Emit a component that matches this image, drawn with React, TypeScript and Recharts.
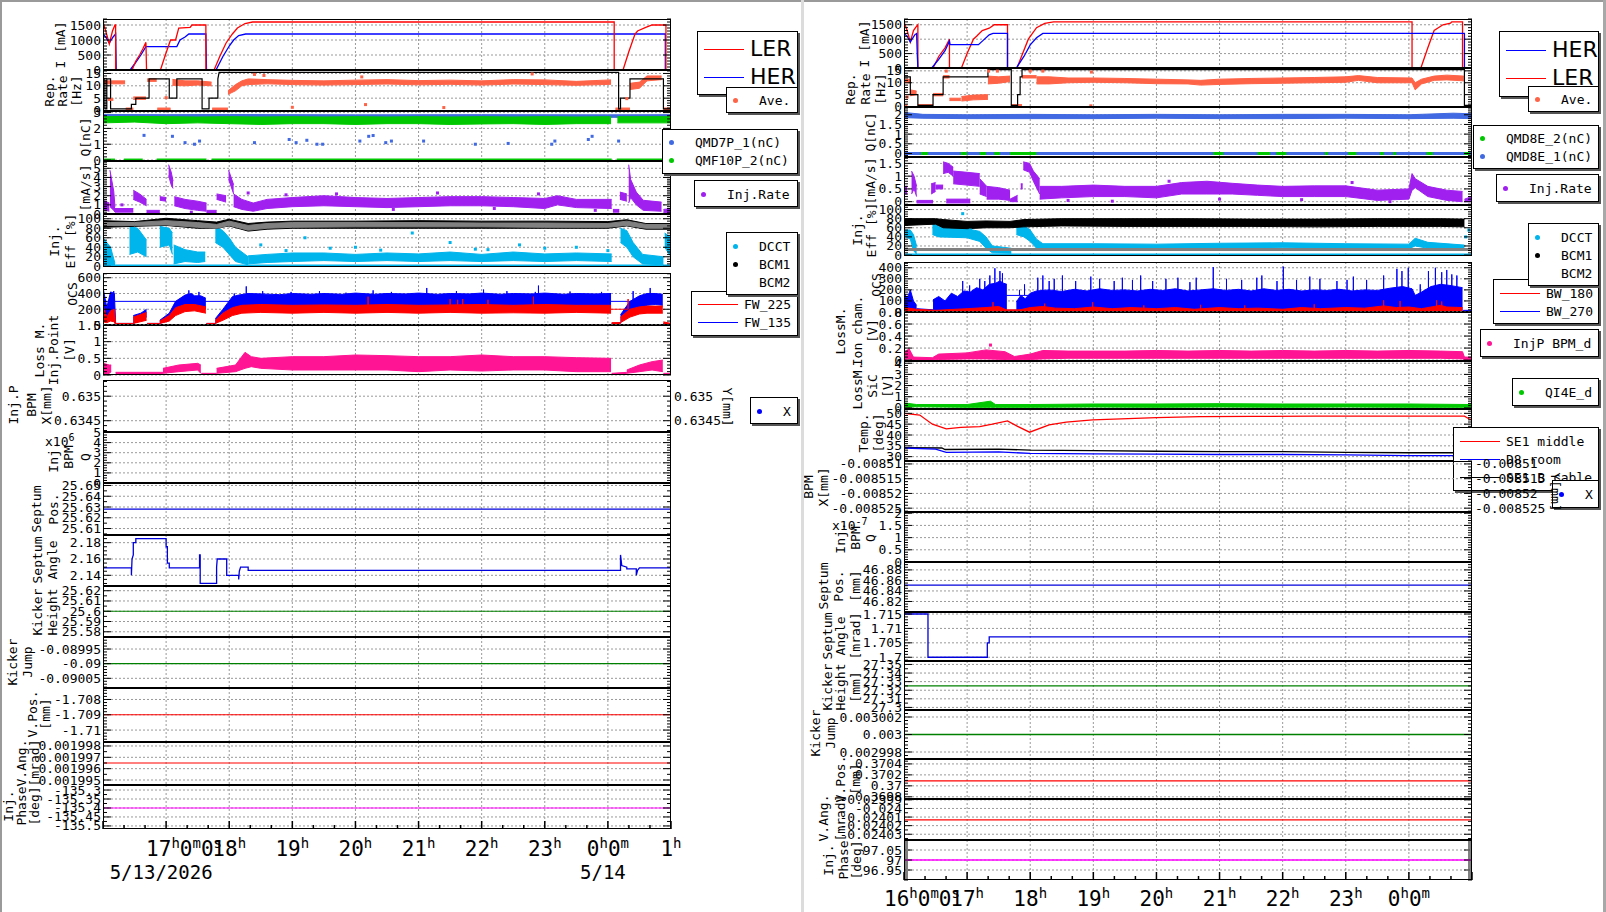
import React from 'react';
import { ComposedChart, Line, Area, Scatter, XAxis, YAxis, CartesianGrid } from 'recharts';

type P = [number, number];
type B = [number, number, number];

const RED = '#ff0000';
const BLUE = '#0000ff';
const ORANGE = '#ff6347';
const GREEN = '#00c800';
const ROYAL = '#4169e1';
const PURPLE = '#a020f0';
const CYAN = '#00b4ec';
const GRAY = '#808080';
const PINK = '#ff1493';
const DKGREEN = '#008000';
const MAGENTA = '#ff00ff';
const SEPT = '#0000dd';
const MONO = '"DejaVu Sans Mono", monospace';

const PLOT_W = 568;
const AXIS_W = 103;

// time axis (hours, 24 = 0h next day)
const HOUR_TICKS: number[] = Array.from({ length: 28 }, (_, i) => 16 + i / 3);
const HOUR_GRID = [17, 18, 19, 20, 21, 22, 23, 24];
const lerHourTicks = [17, 18, 19, 20, 21, 22, 23, 24, 25];
const lerHourLabels = ['17h0m0s', '18h', '19h', '20h', '21h', '22h', '23h', '0h0m', '1h'];
const lerDateTicks = [17, 24];
const lerDateLabels = ['5/13/2026', '5/14'];
const herHourTicks = [16, 17, 18, 19, 20, 21, 22, 23, 24];
const herHourLabels = ['16h0m0s', '17h', '18h', '19h', '20h', '21h', '22h', '23h', '0h0m'];

// ---------------- LER panel ----------------
const lerCurLER: P[] = [[16.0,1600],[16.05,1250],[16.1,870],[16.15,1300],[16.19,1500],[16.2,1500],[16.2,0],[16.46,0],[16.52,300],[16.58,500],[16.63,700],[16.68,920],[16.69,0],[16.91,0],[16.98,450],[17.07,1000],[17.15,1000],[17.2,1400],[17.38,1420],[17.41,1500],[17.63,1500],[17.63,0],[17.76,0],[17.85,450],[17.95,900],[18.05,1200],[18.13,1400],[18.25,1550],[18.37,1600],[24.1,1600],[24.1,0],[24.24,0],[24.33,600],[24.43,1200],[24.47,1300],[24.6,1420],[24.7,1500],[24.92,1500],[24.92,0],[25,0]];
const lerCurHER: P[] = [[16.0,1200],[16.05,1080],[16.1,900],[16.16,1100],[16.2,1200],[16.21,0],[16.43,0],[16.5,200],[16.6,500],[16.68,780],[17.17,780],[17.22,1000],[17.3,1100],[17.36,1200],[17.63,1200],[17.64,0],[17.79,0],[17.9,450],[18.0,800],[18.07,1000],[18.15,1150],[18.26,1200],[24.91,1200],[24.91,0],[25,0]];

const lerRepSet: P[] = [[16.0,12.8],[16.03,12.8],[16.03,0.7],[16.06,0.7],[16.06,12.8],[16.12,12.8],[16.12,0.7],[16.45,0.7],[16.45,2.5],[16.52,2.5],[16.52,5],[16.73,5],[16.73,12.8],[17.05,12.8],[17.05,5],[17.17,5],[17.17,12.8],[17.57,12.8],[17.57,0.7],[17.68,0.7],[17.68,5],[17.82,5],[17.82,12.8],[17.84,15.4],[24.17,15.4],[24.17,0.7],[24.2,0.7],[24.2,5],[24.35,5],[24.35,12.8],[24.88,12.8],[24.88,0.7],[25,0.7]];
const lerRepAve: B[][] = [
  [[16.0,10.8,12.0],[16.35,10.8,12.0]],
  [[16.36,0.2,1.0],[16.48,0.2,1.0]],
  [[16.48,4.5,5.5],[16.68,4.5,5.5]],
  [[16.7,11.8,12.8],[16.85,11.8,12.8]],
  [[16.86,0.2,1.0],[17.07,0.2,1.0]],
  [[17.1,10.2,12.6],[17.3,10.0,12.0],[17.5,10.3,12.0],[17.72,10.0,11.5]],
  [[17.73,0.2,1.0],[17.98,0.2,1.0]],
  [[17.98,6.5,8.0],[18.1,8.0,10.5],[18.2,10.0,12.0],[18.3,10.5,12.8],[18.6,10.8,12.5],[19.0,10.5,12.2],[19.5,10.3,12.0],[20.0,10.5,12.3],[20.5,10.7,12.5],[21.0,10.4,12.1],[21.5,10.6,12.3],[22.0,10.3,12.0],[22.5,10.7,12.5],[23.0,10.5,12.4],[23.5,10.2,11.8],[24.05,10.6,12.4]],
  [[24.12,0.2,1.0],[24.35,0.2,1.0]],
  [[24.35,8.5,11.0],[24.5,9.0,11.5],[24.62,12.0,14.0],[24.85,12.5,14.0]],
  [[24.88,0.2,1.0],[25.0,0.2,1.0]],
];
const lerRepAveOut: P[] = [[16.1,4.5],[16.14,4.5],[17.0,5.2],[18.4,14.6],[18.55,14.2],[19.0,1.3],[20.1,13.6],[20.16,2.4],[21.4,1.2],[22.8,14.8],[24.3,4.8]];

const lerQ7Band: B[][] = [[[16.0,2.7,2.88],[17.0,2.7,2.87],[18.0,2.72,2.88],[20.0,2.7,2.86],[22.0,2.7,2.87],[24.0,2.7,2.86],[25.0,2.7,2.87]]];
const lerQ10Band: B[][] = [
  [[16.0,2.35,2.74],[16.5,2.4,2.76],[17.0,2.3,2.74],[17.5,2.35,2.72],[18.0,2.3,2.74],[18.5,2.25,2.72],[19.0,2.3,2.74],[19.5,2.3,2.72],[20.0,2.25,2.74],[20.5,2.3,2.72],[21.0,2.3,2.74],[21.5,2.25,2.72],[22.0,2.28,2.74],[22.5,2.3,2.72],[23.0,2.25,2.74],[23.5,2.3,2.72],[24.05,2.3,2.74]],
  [[24.15,2.35,2.74],[25.0,2.35,2.74]],
];
const lerQ10Zero: P[][] = [[[16.0,0],[16.19,0]],[[16.33,0],[16.63,0]],[[16.85,0],[17.64,0]],[[17.72,0],[24.06,0]],[[24.14,0],[25,0]]];
const lerQ7Dots: P[] = [[16.65,1.56],[17.1,1.5],[17.3,1.1],[17.45,1.0],[17.53,1.2],[18.4,1.1],[18.95,1.3],[19.06,1.1],[19.23,1.25],[19.39,1.0],[19.48,1.0],[20.07,1.2],[20.21,1.5],[20.28,1.55],[20.48,1.1],[20.57,1.2],[21.08,1.2],[21.9,1.0],[22.42,1.05],[23.11,1.0],[23.16,1.2],[23.69,1.3],[23.75,1.5],[24.17,1.2]];

const lerRate: B[][] = [
  [[16.0,0.5,1.5],[16.1,0.3,1.2]],
  [[16.11,0.8,4.8],[16.17,0.4,2.5],[16.19,0.2,0.8]],
  [[16.19,0.2,0.6],[16.48,0.2,0.6]],
  [[16.48,1.6,2.6],[16.58,1.3,2.2],[16.69,0.9,1.6]],
  [[16.69,0.1,0.4],[16.9,0.1,0.4]],
  [[16.9,1.5,1.9],[17.0,1.4,1.8]],
  [[17.04,4.2,5.4],[17.08,3.2,4.6],[17.11,2.8,3.6]],
  [[17.13,0.9,1.9],[17.3,0.6,1.6],[17.5,0.4,1.4],[17.64,0.3,1.2]],
  [[17.64,0.1,0.4],[17.8,0.1,0.4]],
  [[17.8,1.6,2.2],[17.95,1.3,2.0]],
  [[17.99,3.8,4.8],[18.03,3.0,4.0],[18.07,2.2,3.2]],
  [[18.07,0.8,2.2],[18.2,0.5,1.6],[18.38,0.3,1.2],[18.6,0.6,1.6],[19.0,0.8,1.8],[19.5,0.9,2.0],[20.0,0.8,1.8],[20.5,0.7,1.7],[21.0,0.8,1.8],[21.5,0.9,1.9],[22.0,0.9,1.9],[22.5,0.8,1.8],[23.0,0.6,1.7],[23.2,1.0,2.0],[23.5,0.7,1.6],[24.06,0.6,1.6]],
  [[24.08,0.2,0.5],[24.18,0.2,0.5]],
  [[24.19,1.6,2.4],[24.3,1.4,2.2]],
  [[24.33,1.2,5.4],[24.36,1.8,3.8],[24.45,1.0,2.4],[24.56,0.4,1.5],[24.85,0.3,1.3]],
  [[24.88,0.1,0.5],[25.0,0.2,0.6]],
];
const lerRateDots: P[] = [[18.3,2.3],[18.9,2.1],[19.7,2.2],[20.6,0.5],[21.3,2.3],[22.2,0.6],[22.9,2.2],[23.8,0.4],[17.4,0.2],[16.3,1.0]];

const lerEffBcm1: B[][] = [[[16.0,82,96],[16.5,84,94],[17.0,86,101],[17.5,80,96],[17.8,80,93],[18.0,85,99],[18.3,74,90],[18.6,78,93],[19.0,80,95],[20.0,80,95],[21.0,80,96],[22.0,80,95],[23.0,80,95],[24.0,80,94],[24.3,85,98],[24.6,78,90],[25.0,78,90]]];
const lerEffBcm2: B[][] = [[[16.0,86,92],[16.5,86,92],[17.0,87,96],[17.5,82,92],[17.8,80,88],[18.0,86,95],[18.3,76,86],[18.6,80,90],[19.0,82,92],[20.0,83,92],[21.0,83,92],[22.0,83,91],[23.0,82,91],[24.0,82,90],[24.3,86,95],[24.6,80,88],[25.0,80,88]]];
const lerEffDcct: B[][] = [
  [[16.0,5,60],[16.12,2,40],[16.19,1,6]],
  [[16.42,25,84],[16.55,30,80],[16.69,20,55]],
  [[16.9,40,84],[17.05,45,80],[17.1,25,70]],
  [[17.12,5,45],[17.3,10,35],[17.5,8,30],[17.62,10,30]],
  [[17.78,50,84],[17.9,40,75],[18.0,25,60],[18.1,10,40],[18.3,3,20]],
  [[18.3,5,22],[18.6,8,25],[19.0,10,28],[19.5,12,28],[20.0,10,25],[20.5,12,28],[21.0,10,26],[21.5,12,30],[22.0,10,25],[22.5,12,30],[23.0,10,26],[23.5,12,28],[24.06,10,26]],
  [[24.2,50,80],[24.3,40,75],[24.4,20,50],[24.55,5,25],[24.88,3,20]],
  [[24.9,40,70],[25.0,20,60]],
];
const lerEffDcctBase: P[] = [[16, 0.8], [25, 0.8]];
const lerEffDcctDots: P[] = [[18.5,45],[19.2,60],[19.6,38],[20.0,40],[20.9,70],[21.5,50],[22.1,35],[22.6,45],[23.5,40],[18.9,33],[20.4,34],[21.9,36],[23.0,38],[24.0,33]];

const lerOcs135: B[][] = [
  [[16.0,80,480],[16.06,60,220],[16.12,120,420],[16.18,60,400],[16.2,0,30]],
  [[16.2,0,20],[16.48,0,20]],
  [[16.48,20,120],[16.6,60,150],[16.69,100,200]],
  [[16.7,0,20],[16.9,0,20]],
  [[16.9,20,60],[17.05,60,150],[17.15,150,300],[17.3,230,380],[17.4,250,400],[17.45,260,370],[17.55,230,370],[17.63,200,340]],
  [[17.64,0,20],[17.78,0,20]],
  [[17.78,20,80],[17.9,80,200],[18.05,150,360],[18.15,220,380],[18.3,240,400],[18.5,250,395],[18.8,240,385],[19.0,250,400],[19.3,240,390],[19.5,250,400],[19.8,240,390],[20.0,250,405],[20.3,240,390],[20.5,250,400],[20.8,240,395],[21.0,250,405],[21.3,240,390],[21.5,250,400],[21.8,240,395],[22.0,250,405],[22.3,240,390],[22.5,250,400],[22.8,240,395],[23.0,250,405],[23.3,240,390],[23.5,250,400],[23.8,240,395],[24.05,250,400]],
  [[24.06,0,20],[24.2,0,30]],
  [[24.2,30,130],[24.35,150,300],[24.5,200,370],[24.62,250,400],[24.75,260,400],[24.87,250,390]],
  [[24.88,0,20],[25.0,0,20]],
];
const lerOcs135Spikes: P[] = [[16.0,490],[16.17,430],[17.36,440],[17.52,420],[18.08,400],[18.27,490],[18.53,430],[18.98,420],[19.43,430],[19.85,410],[20.28,440],[20.57,420],[21.13,470],[21.6,430],[22.03,450],[22.4,430],[22.85,420],[22.9,500],[23.4,425],[23.9,420],[24.4,430],[24.67,470]];
const lerOcs225: B[][] = [
  [[16.0,40,250],[16.06,30,100],[16.12,50,180],[16.18,40,200],[16.2,0,20]],
  [[16.2,0,20],[16.48,0,20]],
  [[16.48,20,100],[16.69,60,160]],
  [[16.7,0,20],[16.9,0,20]],
  [[16.9,20,50],[17.05,50,120],[17.15,120,220],[17.3,170,260],[17.45,180,260],[17.63,150,230]],
  [[17.64,0,20],[17.78,0,20]],
  [[17.78,20,60],[17.9,60,150],[18.05,120,220],[18.2,150,250],[18.5,160,260],[19.0,150,250],[19.5,160,255],[20.0,150,250],[20.5,160,260],[21.0,150,250],[21.5,160,255],[22.0,150,260],[22.5,155,250],[23.0,150,260],[23.5,160,250],[24.05,150,250]],
  [[24.06,0,30],[24.2,0,30]],
  [[24.2,30,100],[24.35,100,200],[24.5,140,230],[24.62,150,240],[24.87,150,240]],
  [[24.88,0,40],[25.0,0,20]],
];
const lerOcs225Spikes: P[] = [[20.2,360],[21.5,330],[21.62,320],[21.7,330],[22.1,320],[22.82,360],[24.32,330]];

const lerLoss: B[][] = [
  [[16.0,0,0.35],[16.1,0.05,0.3],[16.13,0.1,0.3]],
  [[16.2,0,0.08],[16.95,0,0.08]],
  [[16.95,0.05,0.2],[17.2,0.1,0.3],[17.5,0.15,0.35],[17.55,0.05,0.3]],
  [[17.56,0,0.05],[17.8,0,0.05]],
  [[17.8,0.05,0.2],[18.1,0.1,0.3],[18.25,0.2,0.68],[18.35,0.25,0.55],[18.5,0.2,0.5],[19.0,0.15,0.55],[19.5,0.15,0.55],[20.0,0.15,0.6],[20.5,0.15,0.58],[21.0,0.1,0.55],[21.5,0.15,0.55],[22.0,0.12,0.6],[22.5,0.15,0.55],[23.0,0.15,0.55],[23.5,0.1,0.52],[24.05,0.1,0.5]],
  [[24.06,0,0.05],[24.3,0,0.08]],
  [[24.3,0.05,0.15],[24.5,0.1,0.3],[24.7,0.15,0.4],[24.87,0.1,0.45]],
  [[24.88,0,0.05],[25.0,0,0.05]],
];

const lerSeptPos: P[] = [[16, 25.628], [25, 25.628]];
const lerSeptAng: P[] = [[16.0,2.149],[16.45,2.149],[16.45,2.14],[16.46,2.16],[16.48,2.165],[16.48,2.18],[16.52,2.18],[16.52,2.185],[17.0,2.185],[17.0,2.175],[17.02,2.175],[17.02,2.155],[17.05,2.155],[17.05,2.149],[17.53,2.149],[17.53,2.165],[17.54,2.165],[17.54,2.13],[17.8,2.13],[17.8,2.15],[17.81,2.16],[17.96,2.16],[17.96,2.14],[18.15,2.14],[18.15,2.135],[18.16,2.145],[18.18,2.15],[18.3,2.15],[18.3,2.146],[24.2,2.146],[24.2,2.165],[24.22,2.152],[24.3,2.15],[24.3,2.148],[24.45,2.148],[24.45,2.14],[24.47,2.146],[24.5,2.149],[25,2.149]];
const lerKickH: P[] = [[16, 25.6], [25, 25.6]];
const lerKickJ: P[] = [[16, -0.09], [25, -0.09]];
const lerVPos: P[] = [[16, -1.709], [25, -1.709]];
const lerVAng: P[] = [[16, 0.0019965], [25, 0.0019965]];
const lerPhase: P[] = [[16, -135.4], [25, -135.4]];

// ---------------- HER panel ----------------
const herCurHER: P[] = [[16.0,1200],[16.05,1100],[16.1,900],[16.17,1150],[16.2,1200],[16.21,500],[16.22,0],[16.44,0],[16.55,300],[16.65,600],[16.72,930],[16.73,810],[17.18,810],[17.25,950],[17.35,1150],[17.41,1200],[17.64,1200],[17.64,0],[17.78,0],[17.9,400],[18.0,800],[18.1,1050],[18.2,1200],[24.88,1200],[24.88,0],[25,0]];
const herCurLER: P[] = [[16.0,1600],[16.05,1300],[16.1,900],[16.15,1300],[16.2,1450],[16.22,1500],[16.22,0],[16.46,0],[16.55,400],[16.65,700],[16.72,1000],[16.72,0],[16.91,0],[17.0,500],[17.1,1000],[17.15,1100],[17.24,1300],[17.35,1380],[17.43,1500],[17.64,1500],[17.64,0],[17.79,0],[17.88,500],[17.97,1000],[18.1,1400],[18.23,1550],[18.37,1600],[24.05,1600],[24.05,0],[24.19,0],[24.3,700],[24.4,1300],[24.54,1500],[24.66,1560],[24.68,1600],[24.85,1600],[24.85,0],[25,0]];

const herRepSet: P[] = [[16.0,12.5],[16.1,12.5],[16.1,5],[16.22,5],[16.22,0.5],[16.46,0.5],[16.46,5],[16.62,5],[16.62,12.5],[17.33,12.5],[17.33,15.5],[17.7,15.5],[17.7,0.5],[17.8,0.5],[17.8,5],[17.84,5],[17.84,12.5],[17.87,12.5],[17.87,15.5],[24.88,15.5],[24.88,0.5],[25,0.5]];
const herRepAve: B[][] = [
  [[16.0,10.0,11.5],[16.1,10.0,11.5]],
  [[16.1,4.5,7.0],[16.2,5.0,6.5]],
  [[16.22,0,0.8],[16.46,0,0.8]],
  [[16.46,4.5,5.5],[16.62,4.5,5.5]],
  [[16.62,12.0,13.0],[16.72,12.0,13.0]],
  [[16.72,2.5,3.5],[16.9,2.5,3.5]],
  [[16.91,2.3,4.2],[17.1,2.8,4.8],[17.33,3.0,5.0]],
  [[17.33,9.5,12.8],[17.5,9.8,12.5],[17.68,10.5,12.8]],
  [[17.7,0,0.8],[17.87,0,0.8]],
  [[17.87,12.0,13.0],[18.1,12.0,13.0]],
  [[18.1,9.5,12.5],[18.3,9.5,12.5],[18.6,10.0,12.0],[19.0,10.2,12.0],[19.5,10.0,11.8],[20.0,9.6,11.5],[20.5,9.5,11.2],[20.7,9.0,11.0],[21.0,9.3,11.5],[21.5,9.6,11.8],[22.0,9.8,12.0],[22.5,10.0,12.2],[23.0,10.2,12.5],[23.2,11.0,13.0],[23.5,10.0,12.2],[24.05,10.0,12.0],[24.1,7.0,10.0],[24.2,9.5,11.5],[24.4,11.0,12.8],[24.6,11.2,13.2],[24.87,10.8,12.8]],
];
const herRepOut: P[] = [[16.03,0.3],[16.05,4.0],[16.67,14.9],[17.34,14.9],[17.48,14.9],[18.0,14.9],[18.2,14.9],[18.97,14.5],[18.96,0.3]];

const herQ1Band: B[][] = [[[16.0,1.85,2.12],[16.3,1.82,2.02],[17.0,1.8,2.0],[18.0,1.8,2.02],[19.0,1.8,2.0],[20.0,1.82,2.02],[21.0,1.8,2.0],[22.0,1.8,2.02],[23.0,1.82,2.02],[24.0,1.8,2.0],[24.7,1.82,2.08],[25.0,1.8,2.05]]];
const herQ2Zero: P[] = [[16, 0], [25, 0]];
const herQ1Zero: P[][] = [[[16.0,0],[16.27,0]],[[16.38,0],[16.9,0]],[[17.0,0],[17.2,0]],[[17.3,0],[17.43,0]],[[17.52,0],[17.68,0]],[[18.1,0],[20.9,0]],[[21.06,0],[21.6,0]],[[21.8,0],[21.9,0]],[[22.06,0],[22.67,0]],[[22.72,0],[23.04,0]],[[23.17,0],[23.54,0]],[[23.6,0],[23.75,0]],[[23.8,0],[24.28,0]],[[24.38,0],[24.88,0]],[[24.96,0],[25.0,0]]];

const herRate: B[][] = [
  [[16.0,0.3,0.6],[16.05,0.3,0.6]],
  [[16.12,0.3,1.2],[16.16,0.5,1.0],[16.2,0.2,0.6]],
  [[16.2,-0.05,0.05],[16.46,-0.05,0.05]],
  [[16.43,0.3,0.7],[16.5,0.4,0.75]],
  [[16.5,0.5,0.65],[16.62,0.5,0.65]],
  [[16.62,1.1,1.56],[16.7,1.15,1.5],[16.78,1.0,1.35]],
  [[16.78,0.7,1.2],[17.0,0.65,1.15],[17.2,0.6,1.1]],
  [[17.2,0.3,0.9],[17.31,0.2,0.6]],
  [[17.31,0.1,0.6],[17.5,0.1,0.55],[17.68,0.05,0.45]],
  [[16.67,-0.05,0.1],[17.05,-0.05,0.1]],
  [[17.68,0,0.1],[17.8,0,0.25]],
  [[17.85,0.5,0.7],[17.88,0.5,0.7]],
  [[17.89,1.25,1.56],[17.99,1.15,1.5],[18.05,0.8,1.2],[18.15,0.3,0.9]],
  [[18.15,0.1,0.6],[18.5,0.15,0.6],[19.0,0.2,0.65],[19.5,0.2,0.6],[20.0,0.15,0.6],[20.4,0.3,0.75],[20.8,0.3,0.8],[21.2,0.3,0.72],[21.6,0.25,0.65],[22.0,0.2,0.6],[22.5,0.2,0.62],[23.0,0.2,0.62],[23.5,0.05,0.45],[24.0,0.1,0.5],[24.05,0.45,1.1],[24.1,0.55,0.9],[24.3,0.2,0.6],[24.6,0.05,0.45],[24.85,0,0.4]],
  [[24.88,0,0.1],[25.0,0,0.2]],
];
const herRateDots: P[] = [[18.6,0.05],[19.3,0.02],[20.2,0.8],[21.0,0.1],[22.3,0.08],[23.1,0.75],[23.7,0.0]];

const herEffBcm1: B[][] = [[[16.0,65,80],[16.5,68,80],[16.62,60,78],[17.0,58,74],[17.3,60,75],[17.68,60,74],[17.9,62,78],[18.5,64,80],[19.5,63,80],[20.5,63,80],[21.5,63,79],[22.5,62,79],[23.5,63,80],[24.5,63,80],[24.88,62,79]]];
const herEffDcct: B[][] = [
  [[16.0,42,55],[16.1,35,55],[16.15,10,45],[16.2,2,20]],
  [[16.45,45,77],[16.55,40,62],[17.0,38,58],[17.2,30,52],[17.3,15,40],[17.4,5,20],[17.7,4,15]],
  [[17.78,45,73],[17.9,40,65],[18.0,30,55],[18.1,15,35],[18.2,14,25],[19.0,15,25],[20.0,14,24],[21.0,15,26],[22.0,16,27],[23.0,14,25],[24.0,14,24],[24.1,20,37],[24.3,15,28],[24.88,12,22]],
];
const herEffDcctBase: P[] = [[16, 0], [25, 0]];
const herEffBcm2: P[] = [[16, 12.5], [25, 12.5]];
const herEffDots: P[] = [[16.93,91],[17.05,55],[24.9,40],[24.95,55]];

const herOcs270: B[][] = [
  [[16.0,0,180],[16.05,10,120],[16.1,5,200],[16.15,0,100],[16.2,0,60]],
  [[16.2,0,30],[16.46,0,20]],
  [[16.46,0,110],[16.55,0,140],[16.65,0,100],[16.75,0,170],[16.85,0,140],[16.95,0,190],[17.05,0,180],[17.15,0,220],[17.25,0,200],[17.35,0,250],[17.45,0,260],[17.52,0,280],[17.58,0,260],[17.63,0,250]],
  [[17.64,0,15],[17.78,0,15]],
  [[17.78,0,90],[17.85,0,150],[17.92,0,120],[18.0,0,170],[18.1,0,190],[18.3,0,200],[18.5,0,185],[18.7,0,205],[18.9,0,190],[19.1,0,210],[19.3,0,195],[19.5,0,200],[19.7,0,190],[19.9,0,205],[20.1,0,195],[20.3,0,210],[20.5,0,190],[20.7,0,200],[20.9,0,210],[21.1,0,195],[21.3,0,205],[21.5,0,190],[21.7,0,210],[21.9,0,195],[22.1,0,205],[22.3,0,190],[22.5,0,200],[22.7,0,195],[22.9,0,205],[23.1,0,190],[23.3,0,200],[23.5,0,195],[23.7,0,215],[23.9,0,230],[24.05,0,210],[24.1,0,150],[24.2,0,180],[24.35,0,230],[24.5,0,250],[24.65,0,240],[24.85,0,220]],
  [[24.86,0,15],[25.0,0,15]],
];
const herOcs270Spikes: P[] = [[16.93,280],[17.04,240],[17.2,300],[17.28,280],[17.36,330],[17.44,395],[17.52,370],[17.56,350],[17.83,200],[17.91,250],[18.12,310],[18.2,330],[18.3,280],[18.38,300],[18.51,330],[18.72,280],[18.96,320],[19.1,300],[19.33,280],[19.46,310],[19.62,290],[19.75,330],[19.94,280],[20.15,300],[20.34,310],[20.53,270],[20.63,310],[20.9,405],[21.11,300],[21.35,290],[21.59,310],[21.67,330],[21.91,280],[22.01,410],[22.22,290],[22.43,320],[22.59,300],[22.86,280],[23.02,290],[23.12,320],[23.33,290],[23.6,330],[23.81,390],[23.89,370],[23.99,400],[24.18,250],[24.31,370],[24.42,400],[24.52,360],[24.6,380],[24.68,340],[24.76,330]];
const herOcs180: B[][] = [[[16.0,0,40],[16.2,0,25],[16.5,0,15],[17.0,0,30],[17.3,0,40],[17.5,0,50],[17.64,0,15],[17.8,0,15],[18.0,0,40],[18.2,0,50],[18.4,0,35],[18.7,0,30],[19.0,0,45],[19.3,0,30],[19.6,0,40],[20.0,0,30],[20.3,0,40],[20.6,0,25],[21.0,0,40],[21.3,0,30],[21.6,0,35],[22.0,0,25],[22.3,0,40],[22.6,0,30],[23.0,0,40],[23.3,0,35],[23.6,0,55],[23.8,0,40],[24.0,0,45],[24.2,0,30],[24.4,0,50],[24.5,0,60],[24.6,0,45],[24.85,0,40]]];
const herOcs180Spikes: P[] = [[17.41,90],[18.23,76],[18.99,90],[19.8,60],[20.7,65],[21.4,60],[22.5,70],[23.6,106],[23.86,100],[24.44,106],[24.52,95]];

const herLossIon: B[][] = [[[16.0,0.01,0.12],[16.08,0.02,0.19],[16.15,0,0.05],[16.45,0,0.04],[16.55,0.01,0.1],[17.0,0.02,0.12],[17.3,0.02,0.17],[17.6,0.01,0.14],[17.75,0,0.06],[18.0,0.01,0.1],[18.2,0.02,0.16],[18.6,0.03,0.15],[19.0,0.03,0.15],[19.5,0.03,0.15],[20.0,0.03,0.16],[20.5,0.03,0.15],[21.0,0.03,0.16],[21.5,0.03,0.15],[22.0,0.03,0.16],[22.5,0.03,0.15],[23.0,0.03,0.16],[23.5,0.03,0.15],[24.0,0.03,0.16],[24.5,0.03,0.15],[24.85,0.02,0.14],[24.88,0,0.05],[25.0,0,0.05]]];
const herLossIonOut: P[] = [[17.37, 0.25]];
const herSiC: B[][] = [[[16.0,0.05,0.45],[16.2,0.1,0.3],[17.0,0.05,0.3],[17.37,0.05,0.6],[17.45,0.05,0.3],[18.0,0.05,0.3],[19.0,0.08,0.35],[20.0,0.05,0.35],[21.0,0.08,0.38],[22.0,0.05,0.35],[23.0,0.08,0.35],[24.0,0.05,0.35],[25.0,0.05,0.3]]];

const herTempSE1: P[] = [[16.0,50],[16.25,49.2],[16.45,45],[16.67,42.8],[16.9,43.5],[17.2,43.9],[17.4,45],[17.64,46.5],[17.8,44],[17.99,41.3],[18.3,44.7],[18.57,45.9],[18.99,47],[20.0,48],[20.69,48.5],[21.5,48.6],[22.5,48.7],[24.0,48.7],[24.88,48.7],[24.95,47.5],[25,47]];
const herTempD8: P[] = [[16.0,34.2],[16.6,34],[16.65,33.3],[17.5,33.5],[18.0,33],[19.0,32.8],[20.0,32.5],[21.0,32.3],[22.0,32.3],[23.0,32],[24.0,31.8],[25,31.8]];
const herTempCable: P[] = [[16.0,34],[16.5,33.5],[16.67,32],[17.5,32.2],[18.0,31.5],[19.0,31.3],[20.0,31.2],[21.0,31],[22.0,31],[23.0,30.8],[24.0,30.5],[25,30.5]];

const herSeptPos: P[] = [[16, 46.851], [25, 46.851]];
const herSeptAng: P[] = [[16,1.715],[16.38,1.715],[16.38,1.7],[17.32,1.7],[17.32,1.705],[17.35,1.705],[17.35,1.7071],[25,1.7071]];
const herKickH: P[] = [[16, 27.325], [25, 27.325]];
const herKickJ: P[] = [[16, 0.003], [25, 0.003]];
const herVPos: P[] = [[16, 0.37009], [25, 0.37009]];
const herVAng: P[] = [[16, -0.0240132], [25, -0.0240132]];
const herPhase: P[] = [[16, 97], [25, 97]];

// ---------------- plumbing ----------------
type Ser =
  | { kind: 'line'; pts: P[]; color: string; w?: number }
  | { kind: 'spikes'; pts: P[]; base: number; color: string }
  | { kind: 'band'; segs: B[][]; color: string }
  | { kind: 'dots'; pts: P[]; color: string };

const L = (pts: P[], color: string, w = 1.3): Ser => ({ kind: 'line', pts, color, w });
const S = (pts: P[], base: number, color: string): Ser => ({ kind: 'spikes', pts, base, color });
const Bd = (segs: B[][], color: string): Ser => ({ kind: 'band', segs, color });
const D = (pts: P[], color: string): Ser => ({ kind: 'dots', pts, color });

interface StripDef {
  top: number; bottom: number;
  domain: [number, number];
  ticks: number[]; minor: number;
  title: string[]; tx: number[]; ty: number;
  series: Ser[];
  right?: boolean;
}

interface AxisDef { ticks: number[]; labels: string[]; dateTicks?: number[]; dates?: string[]; height: number; dy: number; dateDy?: number }

function buildRows(series: Ser[]) {
  const rows: any[] = [];
  series.forEach((s, i) => {
    if (s.kind === 'line') s.pts.forEach(([x, y]) => rows.push({ x, ['l' + i]: y }));
    if (s.kind === 'spikes')
      s.pts.forEach(([x, y]) => {
        rows.push({ x, ['l' + i]: s.base });
        rows.push({ x, ['l' + i]: y });
        rows.push({ x, ['l' + i]: s.base });
      });
    if (s.kind === 'band') s.segs.forEach((seg, j) => seg.forEach(([x, lo, hi]) => rows.push({ x, [`b${i}_${j}`]: [lo, hi] })));
  });
  rows.sort((a, b) => a.x - b.x);
  return rows;
}

function yTickValues(s: StripDef) {
  const step = (s.ticks[1] - s.ticks[0]) / s.minor;
  const out = [...s.ticks];
  for (let v = s.ticks[0] - step; v >= s.domain[0] - step * 1e-3; v -= step) out.push(v);
  for (let k = 1; k < 200; k++) {
    const v = s.ticks[0] + k * step;
    if (v > s.domain[1] + step * 1e-3) break;
    if (!s.ticks.some((t) => Math.abs(t - v) < step * 0.01)) out.push(v);
  }
  return out.sort((a, b) => a - b);
}

function HourText({ x, y, text, first }: { x: number; y: number; text: string; first: boolean }) {
  const parts = Array.from(text.matchAll(/(\d+)([hms])/g));
  const spans: any[] = [];
  parts.forEach((m, i) => {
    spans.push(<tspan key={'d' + i} dy={i === 0 ? 0 : 8}>{m[1]}</tspan>);
    spans.push(<tspan key={'s' + i} dy={-8} fontSize={14}>{m[2]}</tspan>);
  });
  return (
    <text x={first ? x - 20 : x} y={y} textAnchor={first ? 'start' : 'middle'} fontFamily={MONO} fontSize={21} fill="#000">
      {spans}
    </text>
  );
}

function StripChart({ s, ox, axis }: { s: StripDef; ox: number; axis?: AxisDef }) {
  const h = s.bottom - s.top;
  const xh = axis ? axis.height : 0;
  const rp = s.right ? 90 : axis ? 24 : 2;
  const rows = buildRows(s.series);
  const yTicks = yTickValues(s);
  const step = (s.ticks[1] - s.ticks[0]) / s.minor;

  const renderY = (p: any) => {
    const v = p.payload.value;
    const major = s.ticks.find((t) => Math.abs(t - v) < step * 0.01);
    const len = major !== undefined ? 8 : 4;
    return (
      <g>
        <line x1={p.x} x2={p.x + len} y1={p.y} y2={p.y} stroke="#000" strokeWidth={1} />
        <line x1={p.x + PLOT_W} x2={p.x + PLOT_W - len} y1={p.y} y2={p.y} stroke="#000" strokeWidth={1} />
        {major !== undefined && (
          <text x={p.x - 2} y={p.y} dy={4.5} textAnchor="end" fontFamily={MONO} fontSize={13} fill="#000">{String(major)}</text>
        )}
        {major !== undefined && s.right && (
          <text x={p.x + PLOT_W + 3} y={p.y} dy={4.5} textAnchor="start" fontFamily={MONO} fontSize={13} fill="#000">{String(major)}</text>
        )}
      </g>
    );
  };

  const renderX = (p: any) => {
    const v = p.payload.value;
    const r = Math.round(v);
    const major = Math.abs(v - r) < 1e-6;
    const len = major ? 8 : 4;
    const k = axis && major ? axis.ticks.indexOf(r) : -1;
    const dk = axis && axis.dateTicks && major ? axis.dateTicks.indexOf(r) : -1;
    return (
      <g>
        <line x1={p.x} x2={p.x} y1={p.y} y2={p.y - len} stroke="#000" strokeWidth={1.5} />
        {axis && k >= 0 && <HourText x={p.x} y={p.y + axis.dy} text={axis.labels[k]} first={axis.labels[k].length > 5} />}
        {axis && dk >= 0 && axis.dates && (
          <text x={p.x - 5} y={p.y + (axis.dateDy || 50)} textAnchor="middle" fontFamily={MONO} fontSize={19} fill="#000">{axis.dates[dk]}</text>
        )}
      </g>
    );
  };

  return (
    <>
      <div style={{ position: 'absolute', left: ox - AXIS_W, top: s.top }}>
        <ComposedChart width={AXIS_W + PLOT_W + rp} height={h + xh} data={rows} margin={{ top: 0, right: rp, bottom: 0, left: 0 }}>
          <CartesianGrid stroke="#999" strokeDasharray="2 2" strokeWidth={1} horizontalValues={s.ticks} verticalValues={HOUR_GRID} />
          <XAxis dataKey="x" type="number" domain={[16, 25]} allowDataOverflow ticks={HOUR_TICKS} interval={0}
            height={xh} tickSize={0} tickMargin={0} tickLine={false} axisLine={false} tick={renderX} />
          <YAxis type="number" domain={s.domain} allowDataOverflow ticks={yTicks} interval={0}
            width={AXIS_W} tickSize={0} tickMargin={0} tickLine={false} axisLine={false} tick={renderY} />
          {s.series.map((se, i) => {
            if (se.kind === 'line' || se.kind === 'spikes')
              return (
                <Line key={'l' + i} dataKey={'l' + i} type="linear" stroke={se.color} strokeWidth={se.kind === 'line' ? se.w : 1}
                  dot={false} activeDot={false} connectNulls isAnimationActive={false} />
              );
            if (se.kind === 'band')
              return se.segs.map((_, j) => (
                <Area key={`b${i}_${j}`} dataKey={`b${i}_${j}`} type="linear" stroke={se.color} strokeWidth={1}
                  fill={se.color} fillOpacity={1} connectNulls dot={false} activeDot={false} isAnimationActive={false} />
              ));
            const c = se.color;
            return (
              <Scatter key={'d' + i} data={se.pts.map(([x, y]) => ({ x, y }))} dataKey="y" fill={c} isAnimationActive={false}
                shape={(q: any) => <rect x={q.cx - 1.5} y={q.cy - 1.5} width={3} height={3} fill={c} />} />
            );
          })}
        </ComposedChart>
      </div>
      <div style={{ position: 'absolute', left: ox, top: s.top, width: PLOT_W, height: h, boxSizing: 'border-box', border: '1.5px solid #000', pointerEvents: 'none' }} />
    </>
  );
}

interface LegItem { t: string; c: string; m: 'line' | 'dot' | 'none'; y: number }
interface LegDef { x: number; y: number; w: number; h: number; big?: boolean; items: LegItem[] }

function LegendBox({ d, ox }: { d: LegDef; ox: number }) {
  return (
    <div style={{ position: 'absolute', left: d.x - ox, top: d.y, width: d.w, height: d.h, boxSizing: 'border-box', border: '1px solid #000', background: '#fff', boxShadow: '2px 2px 0 #555' }}>
      {d.items.map((it, i) => (
        <React.Fragment key={i}>
          {it.m === 'line' && <div style={{ position: 'absolute', left: 6, width: 40, top: it.y, height: 1.3, background: it.c }} />}
          {it.m === 'dot' && <div style={{ position: 'absolute', left: 6, top: it.y - 2.5, width: 5, height: 5, borderRadius: '50%', background: it.c }} />}
          <div style={{ position: 'absolute', left: it.m === 'line' ? 52 : 32, top: it.y, transform: 'translateY(-50%)', fontFamily: d.big ? '"DejaVu Sans", sans-serif' : MONO, fontSize: d.big ? 22 : 13, lineHeight: 1, whiteSpace: 'nowrap', color: '#000' }}>
            {it.t}
          </div>
        </React.Fragment>
      ))}
    </div>
  );
}

function Titles({ s, px }: { s: StripDef; px: number }) {
  return (
    <>
      {s.title.map((t, k) => (
        <div key={k} style={{ position: 'absolute', left: s.tx[k] - px, top: s.ty, transform: 'translate(-50%,-50%) rotate(-90deg)', fontFamily: MONO, fontSize: 13, lineHeight: 1, whiteSpace: 'pre', color: '#000' }}>
          {t}
        </div>
      ))}
    </>
  );
}

function Panel({ px, width, plotLeft, strips, axis, legends, extras }: { px: number; width: number; plotLeft: number; strips: StripDef[]; axis: AxisDef; legends: LegDef[]; extras: React.ReactNode }) {
  const ox = plotLeft - px;
  const last = strips.length - 1;
  return (
    <div style={{ position: 'absolute', left: px, top: 0, width, height: 912, overflow: 'hidden' }}>
      {strips.map((s, i) => (s.right ? null : <StripChart key={i} s={s} ox={ox} axis={i === last ? axis : undefined} />))}
      {strips.map((s, i) => <Titles key={'t' + i} s={s} px={px} />)}
      {legends.map((d, i) => <LegendBox key={'g' + i} d={d} ox={px} />)}
      {strips.map((s, i) => (s.right ? <StripChart key={'r' + i} s={s} ox={ox} /> : null))}
      {extras}
    </div>
  );
}

const lerStrips: StripDef[] = [
  { top: 19, bottom: 70, domain: [0, 1700], ticks: [0, 500, 1000, 1500], minor: 5, title: ['I [mA]'], tx: [60], ty: 45, series: [L(lerCurHER, BLUE), L(lerCurLER, RED)] },
  { top: 70, bottom: 111, domain: [-0.2, 16.4], ticks: [0, 5, 10, 15], minor: 5, title: ['Rep.', 'Rate', '[Hz]'], tx: [49, 62, 76], ty: 91, series: [Bd(lerRepAve, ORANGE), D(lerRepAveOut, ORANGE), L(lerRepSet, '#000', 1.2)] },
  { top: 111, bottom: 161, domain: [-0.06, 3.1], ticks: [0, 1, 2, 3], minor: 5, title: ['Q[nC]'], tx: [85], ty: 137, series: [Bd(lerQ7Band, ROYAL), Bd(lerQ10Band, GREEN), ...lerQ10Zero.map((z) => L(z, GREEN, 3)), D(lerQ7Dots, ROYAL)] },
  { top: 161, bottom: 214, domain: [0, 5.8], ticks: [0, 1, 2, 3, 4, 5], minor: 5, title: ['[mA/s]'], tx: [85], ty: 188, series: [Bd(lerRate, PURPLE), D(lerRateDots, PURPLE)] },
  { top: 214, bottom: 267, domain: [-1.5, 110], ticks: [0, 20, 40, 60, 80, 100], minor: 4, title: ['Inj.', 'Eff [%]'], tx: [54, 70], ty: 241, series: [L(lerEffDcctBase, CYAN, 3), Bd(lerEffDcct, CYAN), D(lerEffDcctDots, CYAN), Bd(lerEffBcm1, '#000'), Bd(lerEffBcm2, GRAY)] },
  { top: 273, bottom: 325, domain: [0, 660], ticks: [0, 200, 400, 600], minor: 4, title: ['OCS'], tx: [72], ty: 294, series: [Bd(lerOcs135, BLUE), S(lerOcs135Spikes, 300, BLUE), Bd(lerOcs225, RED), S(lerOcs225Spikes, 200, RED)] },
  { top: 325, bottom: 375, domain: [0, 1.5], ticks: [0, 0.5, 1, 1.5], minor: 5, title: ['Loss M.', 'Inj.Point', '[V]'], tx: [39, 53, 69], ty: 350, series: [Bd(lerLoss, PINK)] },
  { top: 380, bottom: 432, domain: [0.63427, 0.63533], ticks: [0.6345, 0.635], minor: 5, title: ['Inj.P', 'BPM', 'X[mm]'], tx: [13, 31, 46], ty: 405, series: [], right: true },
  { top: 432, bottom: 483, domain: [0, 5.05], ticks: [0, 1, 2, 3, 4, 5], minor: 4, title: ['Inj.', 'BPM', 'Q'], tx: [53, 68, 85], ty: 457, series: [] },
  { top: 483, bottom: 535, domain: [25.604, 25.6523], ticks: [25.61, 25.62, 25.63, 25.64, 25.65], minor: 2, title: ['Septum', 'Pos.'], tx: [36, 53], ty: 509, series: [L(lerSeptPos, SEPT, 1.2)] },
  { top: 535, bottom: 586, domain: [2.1269, 2.1894], ticks: [2.14, 2.16, 2.18], minor: 4, title: ['Septum', 'Angle'], tx: [37, 52], ty: 560, series: [L(lerSeptAng, SEPT, 1.3)] },
  { top: 586, bottom: 637, domain: [25.5749, 25.6246], ticks: [25.58, 25.59, 25.6, 25.61, 25.62], minor: 2, title: ['Kicker', 'Height'], tx: [37, 52], ty: 612, series: [L(lerKickH, DKGREEN, 1.2)] },
  { top: 637, bottom: 688, domain: [-0.090083, -0.089909], ticks: [-0.09005, -0.09, -0.08995], minor: 5, title: ['Kicker', 'Jump'], tx: [12, 27], ty: 662, series: [L(lerKickJ, DKGREEN, 1.2)] },
  { top: 688, bottom: 742, domain: [-1.71078, -1.70725], ticks: [-1.71, -1.709, -1.708], minor: 5, title: ['V.Pos.', '[mm]'], tx: [32, 45], ty: 714, series: [L(lerVPos, RED, 1.2)] },
  { top: 742, bottom: 785, domain: [0.00199456, 0.00199835], ticks: [0.001995, 0.001996, 0.001997, 0.001998], minor: 2, title: ['V.Ang.', '[mrad]'], tx: [21, 34], ty: 763, series: [L(lerVAng, RED, 1.2)] },
  { top: 785, bottom: 829, domain: [-135.517, -135.272], ticks: [-135.5, -135.45, -135.4, -135.35, -135.3], minor: 2, title: ['Inj.', 'Phase', '[deg]'], tx: [8, 21, 34], ty: 806, series: [L(lerPhase, MAGENTA, 1.2)] },
];

const herStrips: StripDef[] = [
  { top: 19, bottom: 68, domain: [0, 1700], ticks: [0, 500, 1000, 1500], minor: 5, title: ['I [mA]'], tx: [864], ty: 44, series: [L(herCurLER, RED), L(herCurHER, BLUE)] },
  { top: 68, bottom: 107, domain: [-0.2, 16.2], ticks: [0, 5, 10, 15], minor: 5, title: ['Rep.', 'Rate', '[Hz]'], tx: [850, 865, 880], ty: 89, series: [Bd(herRepAve, ORANGE), D(herRepOut, ORANGE), L(herRepSet, '#000', 1.2)] },
  { top: 107, bottom: 157, domain: [-0.18, 2.4], ticks: [0, 0.5, 1, 1.5, 2], minor: 5, title: ['Q[nC]'], tx: [870], ty: 132, series: [L(herQ2Zero, GREEN, 3), ...herQ1Zero.map((z) => L(z, ROYAL, 3)), Bd(herQ1Band, ROYAL)] },
  { top: 157, bottom: 205, domain: [-0.13, 1.75], ticks: [0, 0.5, 1, 1.5], minor: 5, title: ['[mA/s]'], tx: [870], ty: 181, series: [Bd(herRate, PURPLE), D(herRateDots, PURPLE)] },
  { top: 205, bottom: 256, domain: [-2, 110], ticks: [0, 20, 40, 60, 80, 100], minor: 4, title: ['Inj.', 'Eff [%]'], tx: [857, 871], ty: 230, series: [L(herEffDcctBase, CYAN, 3), Bd(herEffDcct, CYAN), D(herEffDots, CYAN), Bd(herEffBcm1, '#000'), L(herEffBcm2, GRAY, 3)] },
  { top: 262, bottom: 312, domain: [0, 452], ticks: [0, 100, 200, 300, 400], minor: 5, title: ['OCS'], tx: [876], ty: 285, series: [Bd(herOcs270, BLUE), S(herOcs270Spikes, 150, BLUE), Bd(herOcs180, RED), S(herOcs180Spikes, 20, RED)] },
  { top: 312, bottom: 361, domain: [-0.015, 0.8], ticks: [0, 0.2, 0.4, 0.6, 0.8], minor: 4, title: ['LossM.', 'Ion cham.', '[V]'], tx: [840, 857, 872], ty: 331, series: [Bd(herLossIon, PINK), D(herLossIonOut, PINK)] },
  { top: 361, bottom: 409, domain: [-0.1, 4.2], ticks: [0, 1, 2, 3, 4], minor: 5, title: ['LossM.', 'SiC', '[V]'], tx: [857, 872, 887], ty: 386, series: [Bd(herSiC, GREEN)] },
  { top: 409, bottom: 461, domain: [28, 52], ticks: [30, 35, 40, 45, 50], minor: 5, title: ['Temp.', '[deg]'], tx: [863, 878], ty: 433, series: [L(herTempD8, '#000', 1.3), L(herTempCable, BLUE, 1.3), L(herTempSE1, RED, 1.3)] },
  { top: 461, bottom: 512, domain: [-0.0085263, -0.008509], ticks: [-0.008525, -0.00852, -0.008515, -0.00851], minor: 5, title: ['BPM', 'X[mm]'], tx: [808, 823], ty: 487, series: [], right: true },
  { top: 512, bottom: 562, domain: [0, 2.05], ticks: [0, 0.5, 1, 1.5, 2], minor: 5, title: ['Inj.', 'BPM', 'Q'], tx: [840, 855, 870], ty: 538, series: [] },
  { top: 562, bottom: 612, domain: [46.8, 46.895], ticks: [46.82, 46.84, 46.86, 46.88], minor: 4, title: ['Septum', 'Pos.', '[mm]'], tx: [823, 838, 855], ty: 586, series: [L(herSeptPos, SEPT, 1.3)] },
  { top: 612, bottom: 661, domain: [1.6987, 1.7157], ticks: [1.7, 1.705, 1.71, 1.715], minor: 5, title: ['Septum', 'Angle', '[mrad]'], tx: [827, 840, 855], ty: 636, series: [L(herSeptAng, SEPT, 1.3)] },
  { top: 661, bottom: 710, domain: [27.297, 27.354], ticks: [27.3, 27.31, 27.32, 27.33, 27.34, 27.35], minor: 2, title: ['Kicker', 'Height', '[mm]'], tx: [827, 840, 855], ty: 687, series: [L(herKickH, DKGREEN, 1.3)] },
  { top: 710, bottom: 759, domain: [0.0029972, 0.0030028], ticks: [0.002998, 0.003, 0.003002], minor: 5, title: ['Kicker', 'Jump'], tx: [815, 830], ty: 733, series: [L(herKickJ, DKGREEN, 1.3)] },
  { top: 759, bottom: 799, domain: [0.36976, 0.37049], ticks: [0.3698, 0.37, 0.3702, 0.3704], minor: 4, title: ['V.Pos.', '[mm]'], tx: [840, 855], ty: 779, series: [L(herVPos, RED, 1.3)] },
  { top: 799, bottom: 840, domain: [-0.0240367, -0.023989], ticks: [-0.02403, -0.02402, -0.02401, -0.024, -0.02399], minor: 2, title: ['V.Ang.', '[mrad]'], tx: [823, 840], ty: 818, series: [L(herVAng, RED, 1.3)] },
  { top: 840, bottom: 880, domain: [96.9, 97.1], ticks: [96.95, 97, 97.05], minor: 5, title: ['Inj.', 'Phase', '[deg]'], tx: [828, 843, 856], ty: 860, series: [L(herPhase, MAGENTA, 1.3)] },
];

const lerLegends: LegDef[] = [
  { x: 697, y: 31, w: 101, h: 64, big: true, items: [{ t: 'LER', c: RED, m: 'line', y: 17 }, { t: 'HER', c: BLUE, m: 'line', y: 45 }] },
  { x: 726, y: 87, w: 72, h: 26, items: [{ t: 'Ave.', c: ORANGE, m: 'dot', y: 12 }] },
  { x: 662, y: 129, w: 136, h: 45, items: [{ t: 'QMD7P_1(nC)', c: ROYAL, m: 'dot', y: 12 }, { t: 'QMF10P_2(nC)', c: GREEN, m: 'dot', y: 30 }] },
  { x: 694, y: 180, w: 104, h: 27, items: [{ t: 'Inj.Rate', c: PURPLE, m: 'dot', y: 13 }] },
  { x: 691, y: 291, w: 107, h: 45, items: [{ t: 'FW_225', c: RED, m: 'line', y: 12 }, { t: 'FW_135', c: BLUE, m: 'line', y: 30 }] },
  { x: 726, y: 232, w: 72, h: 63, items: [{ t: 'DCCT', c: CYAN, m: 'dot', y: 13 }, { t: 'BCM1', c: '#000', m: 'dot', y: 31 }, { t: 'BCM2', c: GRAY, m: 'none', y: 49 }] },
  { x: 750, y: 397, w: 48, h: 27, items: [{ t: 'X', c: BLUE, m: 'dot', y: 13 }] },
];

const herLegends: LegDef[] = [
  { x: 1499, y: 31, w: 100, h: 66, big: true, items: [{ t: 'HER', c: BLUE, m: 'line', y: 18 }, { t: 'LER', c: RED, m: 'line', y: 46 }] },
  { x: 1528, y: 86, w: 71, h: 26, items: [{ t: 'Ave.', c: ORANGE, m: 'dot', y: 12 }] },
  { x: 1473, y: 125, w: 126, h: 44, items: [{ t: 'QMD8E_2(nC)', c: GREEN, m: 'dot', y: 12 }, { t: 'QMD8E_1(nC)', c: ROYAL, m: 'dot', y: 30 }] },
  { x: 1496, y: 174, w: 103, h: 28, items: [{ t: 'Inj.Rate', c: PURPLE, m: 'dot', y: 13 }] },
  { x: 1493, y: 279, w: 106, h: 45, items: [{ t: 'BW_180', c: RED, m: 'line', y: 13 }, { t: 'BW_270', c: BLUE, m: 'line', y: 31 }] },
  { x: 1528, y: 223, w: 71, h: 63, items: [{ t: 'DCCT', c: CYAN, m: 'dot', y: 13 }, { t: 'BCM1', c: '#000', m: 'dot', y: 31 }, { t: 'BCM2', c: GRAY, m: 'none', y: 49 }] },
  { x: 1480, y: 329, w: 119, h: 28, items: [{ t: 'InjP BPM_d', c: PINK, m: 'dot', y: 13 }] },
  { x: 1512, y: 378, w: 87, h: 28, items: [{ t: 'QI4E_d', c: GREEN, m: 'dot', y: 13 }] },
  { x: 1453, y: 427, w: 146, h: 64, items: [{ t: 'SE1 middle', c: RED, m: 'line', y: 13 }, { t: 'D8 room', c: BLUE, m: 'line', y: 31 }, { t: 'SE1 B cable', c: '#000', m: 'line', y: 49 }] },
  { x: 1552, y: 480, w: 47, h: 28, items: [{ t: 'X', c: BLUE, m: 'dot', y: 13 }] },
];

const lerAxis: AxisDef = { ticks: lerHourTicks, labels: lerHourLabels, dateTicks: lerDateTicks, dates: lerDateLabels, height: 60, dy: 27, dateDy: 50 };
const herAxis: AxisDef = { ticks: herHourTicks, labels: herHourLabels, height: 30, dy: 26 };

const txt = (extra: React.CSSProperties): React.CSSProperties => ({ position: 'absolute', fontFamily: MONO, fontSize: 13, lineHeight: 1, whiteSpace: 'nowrap', color: '#000', ...extra });

export default function App() {
  return (
    <div style={{ position: 'absolute', left: 0, top: 0, width: 1606, height: 912, background: '#fff', overflow: 'hidden' }}>
      <style>{'.recharts-surface{overflow:visible}'}</style>
      <Panel px={0} width={802} plotLeft={103} strips={lerStrips} axis={lerAxis} legends={lerLegends}
        extras={
          <>
            <div style={txt({ left: 45, top: 433 })}>x10<sup style={{ fontSize: 10 }}>6</sup></div>
            <div style={txt({ left: 727, top: 407, transform: 'translate(-50%,-50%) rotate(90deg)' })}>Y[mm]</div>
          </>
        } />
      <Panel px={803} width={803} plotLeft={904} strips={herStrips} axis={herAxis} legends={herLegends}
        extras={
          <>
            <div style={txt({ left: 832 - 803, top: 517 })}>x10<sup style={{ fontSize: 10 }}>-7</sup></div>
            <div style={txt({ left: 1555 - 803, top: 492, transform: 'translate(-50%,-50%) rotate(90deg)' })}>Y[mm]</div>
          </>
        } />
      <div style={{ position: 'absolute', left: 0, top: 0, width: 1606, height: 2, background: '#9a9a9a' }} />
      <div style={{ position: 'absolute', left: 0, top: 0, width: 2, height: 912, background: '#9a9a9a' }} />
      <div style={{ position: 'absolute', left: 801, top: 0, width: 3, height: 912, background: '#dcdcdc' }} />
      <div style={{ position: 'absolute', left: 1603, top: 0, width: 3, height: 912, background: '#a8a8a8' }} />
    </div>
  );
}
